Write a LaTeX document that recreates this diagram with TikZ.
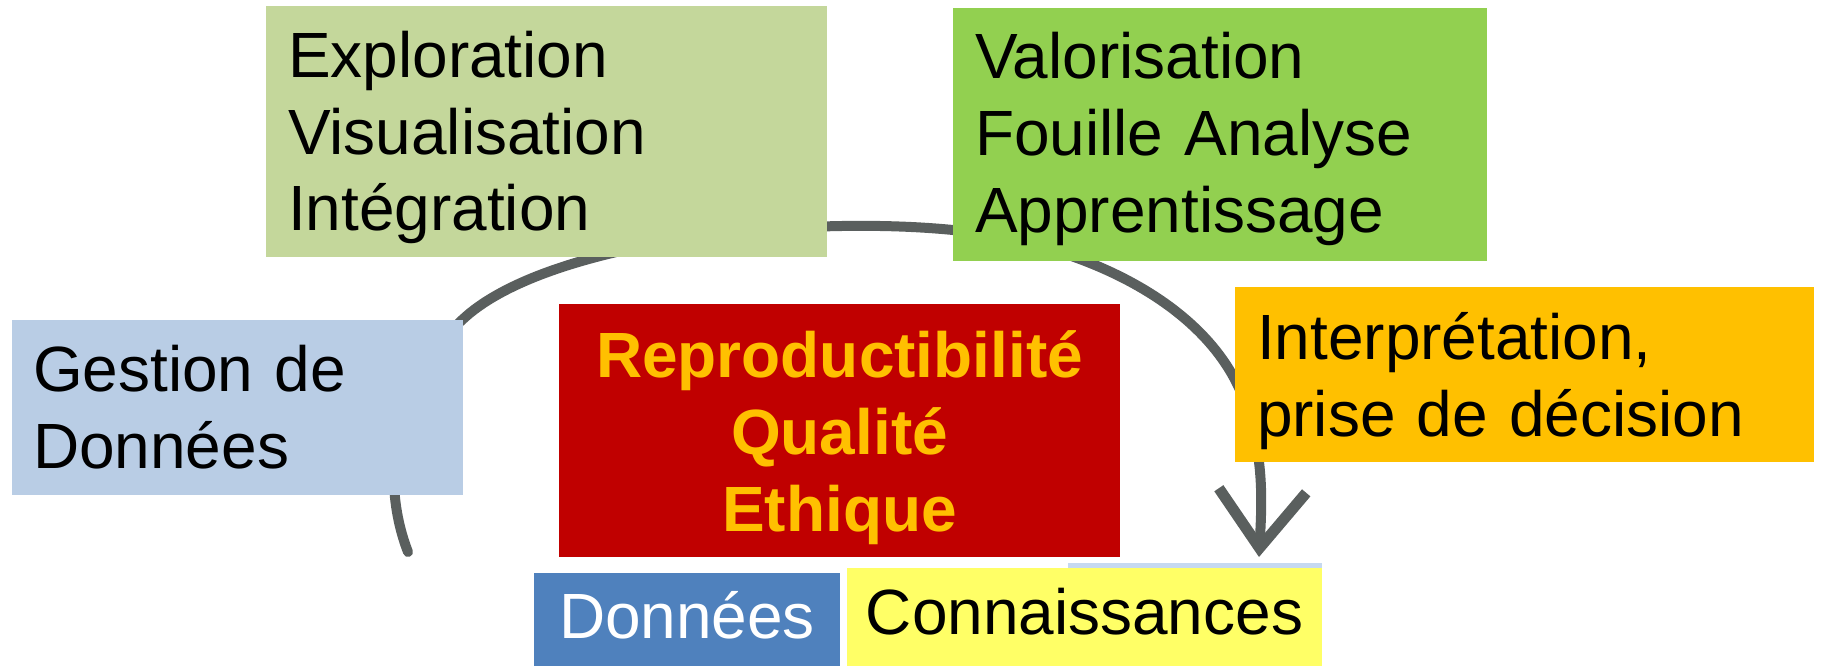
\documentclass[tikz,border=0pt]{standalone}
\usepackage{fontspec}
\setmainfont{Liberation Sans}
\usetikzlibrary{arrows.meta}
\definecolor{cExplo}{HTML}{C4D79B}
\definecolor{cValo}{HTML}{92D050}
\definecolor{cGest}{HTML}{B9CDE5}
\definecolor{cInter}{HTML}{FFC000}
\definecolor{cRed}{HTML}{C00000}
\definecolor{cGold}{HTML}{FFC000}
\definecolor{cDon}{HTML}{4F81BD}
\definecolor{cCon}{HTML}{FFFF66}
\definecolor{cArc}{HTML}{5A5F5E}
\definecolor{cStrip}{HTML}{C6D9F1}
\begin{document}
\begin{tikzpicture}[x=0.02cm,y=-0.02cm]
\useasboundingbox (0,0) rectangle (1824,666);
\tikzset{
  box/.style={inner sep=0pt, anchor=center},
  txt/.style={inner sep=0pt, anchor=center, align=left,
    font=\fontsize{36.4}{43.8}\selectfont},
  cyclearc/.style={draw=cArc, line width=0.2cm, line cap=round, line join=round},
}
% cycle arrow (drawn first, boxes cover it)
\coordinate (arcstart) at (408,552);
\coordinate (arcend) at (1259,557);
\draw[cyclearc, -{Straight Barb[length=1.15cm, width=1.75cm, line width=0.22cm]}]
  (arcstart) .. controls (380,480) and (390,380) .. (470,313)
  .. controls (560,240) and (800,215) .. (953,230)
  .. controls (1080,243) and (1200,300) .. (1240,390)
  .. controls (1265,450) and (1262,500) .. (arcend);
% boxes
\node[box, fill=cExplo, minimum width=11.22cm, minimum height=5.02cm] (explo) at (546.5,131.5) {};
\node[txt, text width=10.34cm, yshift=-0.12cm] (explotxt) at (explo.center)
  {Exploration\\Visualisation\\Intégration};
\node[box, fill=cValo, minimum width=10.68cm, minimum height=5.06cm] (valo) at (1220,134.5) {};
\node[txt, text width=9.80cm, yshift=-0.09cm] (valotxt) at (valo.center)
  {Valorisation\\Fouille Analyse\\Apprentissage};
\node[box, fill=cGest, minimum width=9.02cm, minimum height=3.5cm] (gest) at (237.5,407.5) {};
\node[txt, text width=8.18cm] (gesttxt) at (gest.center) {Gestion de\\Données};
\node[box, fill=cInter, minimum width=11.58cm, minimum height=3.5cm] (inter) at (1524.5,374.5) {};
\node[txt, text width=10.70cm, yshift=-0.14cm] (intertxt) at (inter.center)
  {Interprétation,\\prise de décision};
\node[box, fill=cRed, minimum width=11.22cm, minimum height=5.06cm] (qual) at (839.5,430.5) {};
\node[txt, align=center, text=cGold, font=\fontsize{36.4}{43.8}\selectfont\bfseries, yshift=-0.14cm]
  (qualtxt) at (qual.center) {Reproductibilité\\Qualité\\Ethique};
\node[box, fill=cDon, minimum width=6.12cm, minimum height=1.86cm] (don) at (687,619.5) {};
\node[txt, align=center, text=white, yshift=0.08cm] (dontxt) at (don.center) {Données};
\fill[cStrip] (1068,563) rectangle (1322,572);
\node[box, fill=cCon, minimum width=9.5cm, minimum height=1.96cm] (con) at (1084.5,617) {};
\node[txt, align=center, yshift=0.1cm] (contxt) at (con.center) {Connaissances};
\end{tikzpicture}
\end{document}
